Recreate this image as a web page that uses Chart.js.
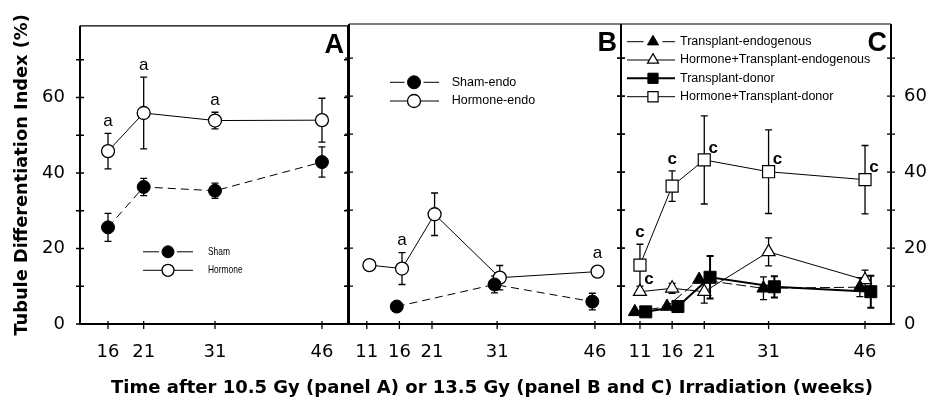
<!DOCTYPE html>
<html>
<head>
<meta charset="utf-8">
<title>Tubule Differentiation Index</title>
<script src="https://cdn.jsdelivr.net/npm/chart.js@4.4.1/dist/chart.umd.min.js"></script>
<style>
  html, body { margin: 0; padding: 0; background: #fff; }
  #wrap { position: relative; width: 931px; height: 403px; overflow: hidden; }
  #wrap canvas { position: absolute; top: 0; }
  #xTitle {
    position: absolute; left: 492px; top: 377px;
    transform: translateX(-50%);
    font: bold 18px "DejaVu Sans", sans-serif;
    line-height: 20px; white-space: nowrap; color: #000;
  }
</style>
</head>
<body>
<div id="wrap">
  <canvas id="panelA" width="350" height="403" style="left:0"></canvas>
  <canvas id="panelB" width="290" height="403" style="left:340px"></canvas>
  <canvas id="panelC" width="320" height="403" style="left:611px"></canvas>
  <div id="xTitle">Time after 10.5 Gy (panel A) or 13.5 Gy (panel B and C) Irradiation (weeks)</div>
</div>
<script>
// ---- data (weeks after irradiation, % index, +/- error) ----
const Y_MAX = 79;
const yLabels = [0, 20, 40, 60];

// panel A, 10.5 Gy
const weeksA = [16, 21, 31, 46];
const shamA = [25.6, 36.3, 35.3, 42.9];
const shamAErr = [3.7, 2.3, 2.0, 4.0];
const hormoneA = [45.8, 55.9, 53.9, 54.0];
const hormoneAErr = [4.7, 9.5, 2.2, 5.8];

// panel B, 13.5 Gy endogenous
const weeksB = [11, 16, 21, 31, 46];
const hormoneEndoWeeks = [11, 16, 21, 31, 46];
const hormoneEndo = [15.5, 14.6, 28.9, 12.2, 13.8];
const hormoneEndoErr = [0, 4.2, 5.6, 3.2, 0];
const shamEndoWeeks = [16, 31, 46];
const shamEndo = [4.6, 10.4, 5.9];
const shamEndoErr = [0, 2.2, 2.2];

// panel C, 13.5 Gy transplants
const weeksC = [11, 16, 21, 31, 46];
const transplantEndo = [3.2, 4.6, 11.7, 9.4, 9.7];
const transplantEndoErr = [0, 0, 0, 3.0, 2.5];
const hormoneTransplantEndo = [8.5, 9.4, 8.5, 19.0, 11.6];
const hormoneTransplantEndoErr = [0, 1.3, 3.0, 3.7, 2.6];
const transplantDonor = [3.2, 4.6, 12.3, 9.8, 8.5];
const transplantDonorErr = [0, 0, 5.6, 2.8, 4.2];
const hormoneTransplantDonor = [15.5, 36.3, 43.2, 40.1, 38.0];
const hormoneTransplantDonorErr = [5.5, 4.0, 11.6, 11.0, 9.0];

// ---- marker / line styles ----
const DASH = [8, 5];
const filledCircle = { pointStyle: 'circle', pointRadius: 6.5, pointBackgroundColor: '#000', pointBorderWidth: 1 };
const openCircle = { pointStyle: 'circle', pointRadius: 6.5, pointBackgroundColor: '#fff', pointBorderWidth: 1.3 };
const filledTri = { pointStyle: 'triangle', pointRadius: 7.5, pointBackgroundColor: '#000', pointBorderWidth: 1 };
const openTri = { pointStyle: 'triangle', pointRadius: 7.5, pointBackgroundColor: '#fff', pointBorderWidth: 1.2 };
const filledRect = { pointStyle: 'rect', pointRadius: 8.5, pointBackgroundColor: '#000', pointBorderWidth: 1 };
const openRect = { pointStyle: 'rect', pointRadius: 8.5, pointBackgroundColor: '#fff', pointBorderWidth: 1.2 };

function series(label, weeks, values, errors, marker, line, dodge) {
  return Object.assign({
    label: label,
    data: weeks.map((w, i) => ({ x: w + (dodge || 0), y: values[i] })),
    errors: errors,
    borderColor: '#000',
    pointBorderColor: '#000',
    borderWidth: 1,
    tension: 0,
    pointHoverRadius: 0
  }, marker, line);
}

// ---- plugins ----
const errorBars = {
  id: 'errorBars',
  beforeDatasetsDraw(chart) {
    const { ctx, scales: { x, y } } = chart;
    ctx.save();
    ctx.strokeStyle = '#000';
    chart.data.datasets.forEach(ds => {
      if (!ds.errors) return;
      ctx.lineWidth = ds.borderWidth > 1.5 ? 2 : 1.3;
      ds.data.forEach((p, i) => {
        const e = ds.errors[i];
        if (!e) return;
        const px = x.getPixelForValue(p.x);
        const top = y.getPixelForValue(p.y + e);
        const bot = y.getPixelForValue(p.y - e);
        ctx.beginPath();
        ctx.moveTo(px, top); ctx.lineTo(px, bot);
        ctx.moveTo(px - 3.5, top); ctx.lineTo(px + 3.5, top);
        ctx.moveTo(px - 3.5, bot); ctx.lineTo(px + 3.5, bot);
        ctx.stroke();
      });
    });
    ctx.restore();
  }
};

// border, tick marks and the panel letter
const frame = {
  id: 'frame',
  afterDatasetsDraw(chart, args, opts) {
    const { ctx, chartArea: a, scales: { x, y } } = chart;
    ctx.save();
    ctx.strokeStyle = '#000';
    ctx.lineWidth = 1.3;
    ctx.beginPath();
    for (let v = 0; v <= Y_MAX; v += 10) {
      const py = y.getPixelForValue(v);
      ctx.moveTo(a.left - 4, py); ctx.lineTo(a.left + 4, py);
      ctx.moveTo(a.right - 4, py); ctx.lineTo(a.right + 4, py);
    }
    opts.xTicks.forEach(w => {
      const px = x.getPixelForValue(w);
      ctx.moveTo(px, a.bottom - 3); ctx.lineTo(px, a.bottom + 5);
    });
    ctx.stroke();

    ctx.lineWidth = 2;
    ctx.beginPath();
    ctx.moveTo(a.left, a.top); ctx.lineTo(a.left, a.bottom); ctx.lineTo(a.right, a.bottom); ctx.lineTo(a.right, a.top);
    ctx.stroke();
    ctx.lineWidth = 1.2;
    ctx.beginPath();
    ctx.moveTo(a.left, a.top); ctx.lineTo(a.right, a.top);
    ctx.stroke();

    ctx.fillStyle = '#000';
    ctx.font = 'bold 27px "Liberation Sans", Arial, sans-serif';
    ctx.textAlign = 'right';
    ctx.textBaseline = 'alphabetic';
    ctx.fillText(opts.letter, a.right - 4, a.top + 27);
    ctx.restore();
  }
};

// significance letters over chosen points
const letters = {
  id: 'letters',
  afterDatasetsDraw(chart, args, opts) {
    const { ctx, scales: { x, y } } = chart;
    ctx.save();
    ctx.fillStyle = '#000';
    ctx.font = opts.font;
    ctx.textAlign = 'center';
    ctx.textBaseline = 'middle';
    opts.items.forEach(it => {
      const ds = chart.data.datasets[it.ds];
      const p = ds.data[it.i];
      const px = x.getPixelForValue(p.x);
      const py = y.getPixelForValue(p.y);
      if (it.place === 'right') {
        ctx.fillText(it.text, px + 9, py - 12);
      } else {
        const e = ds.errors[it.i] || 0;
        const top = Math.min(y.getPixelForValue(p.y + e), py - ds.pointRadius);
        ctx.fillText(it.text, px, top - 12);
      }
    });
    ctx.restore();
  }
};

// line-marker-line legend inside the plot area
const keyLegend = {
  id: 'keyLegend',
  afterDraw(chart, args, opts) {
    const { ctx, chartArea: a } = chart;
    ctx.save();
    opts.rows.forEach((ry, k) => {
      const ds = chart.data.datasets[opts.order[k]];
      const y = a.top + ry;
      const x0 = a.left + opts.x0, x1 = a.left + opts.x1, mx = a.left + opts.mx;
      const r = ds.pointRadius * (opts.markerScale || 1);
      ctx.strokeStyle = '#000';
      ctx.lineWidth = ds.borderWidth;
      ctx.setLineDash([]);
      ctx.beginPath();
      if (ds.borderDash) {
        ctx.moveTo(x0, y); ctx.lineTo(mx - r - 3, y);
        ctx.moveTo(mx + r + 3, y); ctx.lineTo(x1, y);
      } else {
        ctx.moveTo(x0, y); ctx.lineTo(x1, y);
      }
      ctx.stroke();
      ctx.fillStyle = ds.pointBackgroundColor;
      ctx.lineWidth = ds.pointBorderWidth;
      Chart.helpers.drawPoint(ctx, { pointStyle: ds.pointStyle, radius: r, rotation: 0, borderWidth: ds.pointBorderWidth }, mx, y);

      ctx.fillStyle = '#000';
      ctx.font = opts.font;
      ctx.textAlign = 'left';
      ctx.textBaseline = 'middle';
      const w = ctx.measureText(ds.label).width;
      ctx.fillText(ds.label, a.left + opts.tx, y, w * (opts.squeeze || 1));
    });
    ctx.restore();
  }
};

const TICK_FONT = { family: '"DejaVu Sans", sans-serif', size: 18 };

function xAxis(min, max, ticks) {
  return {
    type: 'linear', min: min, max: max,
    afterBuildTicks: s => { s.ticks = ticks.map(v => ({ value: v })); },
    // fixed height, and no extra side room for the end labels
    afterFit: s => { s.height = 79; s.paddingLeft = 0; s.paddingRight = 0; },
    grid: { display: false, drawTicks: false },
    border: { display: false },
    ticks: { color: '#000', font: TICK_FONT, padding: 18 }
  };
}

function yAxis(position, show) {
  const ax = {
    type: 'linear', position: position, min: 0, max: Y_MAX, display: show,
    afterBuildTicks: s => { s.ticks = yLabels.map(v => ({ value: v })); },
    grid: { display: false, drawTicks: false },
    border: { display: false },
    ticks: { color: '#000', font: TICK_FONT, padding: position === 'left' ? 15 : 13 }
  };
  if (!show) return ax;
  if (position === 'left') {
    ax.afterFit = s => { s.width = 80; };
    ax.title = {
      display: true, text: 'Tubule Differentiation Index (%)', color: '#000',
      font: { family: '"DejaVu Sans", sans-serif', size: 17.8, weight: 'bold' },
      padding: { top: 12, bottom: 0 }
    };
  } else {
    ax.afterFit = s => { s.width = 40; };
  }
  return ax;
}

function makePanel(id, datasets, cfg) {
  return new Chart(document.getElementById(id), {
    type: 'line',
    data: { datasets: datasets },
    plugins: [errorBars, frame, letters, keyLegend],
    options: {
      responsive: false,
      animation: false,
      devicePixelRatio: 1,
      layout: { padding: cfg.padding, autoPadding: false },
      scales: { x: xAxis(cfg.xMin, cfg.xMax, cfg.xTicks), y: cfg.y },
      plugins: {
        legend: { display: false },
        tooltip: { enabled: false },
        frame: { letter: cfg.letter, xTicks: cfg.xTicks },
        letters: cfg.letters,
        keyLegend: cfg.legend
      }
    }
  });
}

// ---- panel A ----
makePanel('panelA', [
  series('Sham', weeksA, shamA, shamAErr, filledCircle, { borderDash: DASH }),
  series('Hormone', weeksA, hormoneA, hormoneAErr, openCircle, {})
], {
  letter: 'A', xMin: 12.07, xMax: 49.65, xTicks: weeksA,
  padding: { top: 24, right: 2, left: 0, bottom: 0 },
  y: yAxis('left', true),
  letters: { font: '17px "Liberation Sans", Arial, sans-serif',
    items: [{ ds: 1, i: 0, text: 'a' }, { ds: 1, i: 1, text: 'a' }, { ds: 1, i: 2, text: 'a' }] },
  legend: { order: [0, 1], rows: [226, 244.5], x0: 63, x1: 113, mx: 88, tx: 128,
    markerScale: 0.92, font: '10.5px "Liberation Sans", Arial, sans-serif', squeeze: 0.8 }
});

// ---- panel B ----
makePanel('panelB', [
  series('Sham-endo', shamEndoWeeks, shamEndo, shamEndoErr, filledCircle, { borderDash: DASH }, -0.4),
  series('Hormone-endo', hormoneEndoWeeks, hormoneEndo, hormoneEndoErr, openCircle, {}, 0.4)
], {
  letter: 'B', xMin: 8.27, xMax: 50, xTicks: weeksB,
  padding: { top: 24, right: 9, left: 9, bottom: 0 },
  y: yAxis('left', false),
  letters: { font: '17px "Liberation Sans", Arial, sans-serif',
    items: [{ ds: 1, i: 1, text: 'a' }, { ds: 1, i: 4, text: 'a' }] },
  legend: { order: [0, 1], rows: [58.3, 77], x0: 41, x1: 90, mx: 65, tx: 102.7,
    font: '12.5px "Liberation Sans", Arial, sans-serif' }
});

// ---- panel C ----
makePanel('panelC', [
  series('Transplant-endogenous', weeksC, transplantEndo, transplantEndoErr, filledTri, { borderDash: [10, 4] }, -0.8),
  series('Hormone+Transplant-endogenous', weeksC, hormoneTransplantEndo, hormoneTransplantEndoErr, openTri, {}),
  series('Transplant-donor', weeksC, transplantDonor, transplantDonorErr, filledRect, { borderWidth: 2 }, 0.9),
  series('Hormone+Transplant-donor', weeksC, hormoneTransplantDonor, hormoneTransplantDonorErr, openRect, {})
], {
  letter: 'C', xMin: 8.05, xMax: 50.04, xTicks: weeksC,
  padding: { top: 24, right: 0, left: 10, bottom: 0 },
  y: yAxis('right', true),
  letters: { font: 'bold 17px "Liberation Sans", Arial, sans-serif',
    items: [
      { ds: 3, i: 0, text: 'c' }, { ds: 3, i: 1, text: 'c' },
      { ds: 3, i: 2, text: 'c', place: 'right' }, { ds: 3, i: 3, text: 'c', place: 'right' },
      { ds: 3, i: 4, text: 'c', place: 'right' }, { ds: 1, i: 0, text: 'c', place: 'right' }
    ] },
  legend: { order: [0, 1, 2, 3], rows: [17.7, 36, 54.3, 72.7], x0: 6, x1: 54, mx: 32, tx: 59,
    markerScale: 0.85, font: '12.5px "Liberation Sans", Arial, sans-serif' }
});
</script>
</body>
</html>
